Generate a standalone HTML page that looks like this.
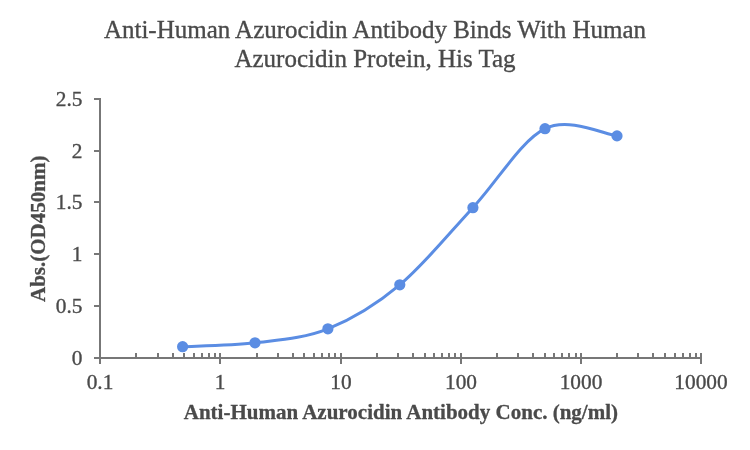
<!DOCTYPE html>
<html><head><meta charset="utf-8"><style>
html,body{margin:0;padding:0;background:#fff;}
svg{display:block;will-change:transform;}
text{font-family:"Liberation Serif",serif;}
.tk{font-size:21.33px;fill:#4a4a4a;stroke:#4a4a4a;stroke-width:0.35px;}
.ti{font-size:25px;fill:#4a4a4a;stroke:#4a4a4a;stroke-width:0.35px;}
.at{font-size:21px;font-weight:bold;fill:#4a4a4a;stroke:#4a4a4a;stroke-width:0.3px;}
</style></head><body>
<svg width="750" height="450" viewBox="0 0 750 450">
<rect x="99" y="98" width="2" height="266" fill="#777777"/>
<rect x="99" y="357" width="602" height="2" fill="#777777"/>
<rect x="94" y="98" width="6" height="2" fill="#777777"/>
<rect x="94" y="150" width="6" height="2" fill="#777777"/>
<rect x="94" y="201" width="6" height="2" fill="#777777"/>
<rect x="94" y="253" width="6" height="2" fill="#777777"/>
<rect x="94" y="305" width="6" height="2" fill="#777777"/>
<rect x="94" y="357" width="6" height="2" fill="#777777"/>
<rect x="99" y="353" width="2" height="11" fill="#777777"/>
<rect x="219" y="353" width="2" height="11" fill="#777777"/>
<rect x="340" y="353" width="2" height="11" fill="#777777"/>
<rect x="460" y="353" width="2" height="11" fill="#777777"/>
<rect x="580" y="353" width="2" height="11" fill="#777777"/>
<rect x="700" y="353" width="2" height="11" fill="#777777"/>
<rect x="135" y="353" width="2" height="5" fill="#777777"/>
<rect x="157" y="353" width="2" height="5" fill="#777777"/>
<rect x="172" y="353" width="2" height="5" fill="#777777"/>
<rect x="183" y="353" width="2" height="5" fill="#777777"/>
<rect x="193" y="353" width="2" height="5" fill="#777777"/>
<rect x="201" y="353" width="2" height="5" fill="#777777"/>
<rect x="208" y="353" width="2" height="5" fill="#777777"/>
<rect x="214" y="353" width="2" height="5" fill="#777777"/>
<rect x="256" y="353" width="2" height="5" fill="#777777"/>
<rect x="277" y="353" width="2" height="5" fill="#777777"/>
<rect x="292" y="353" width="2" height="5" fill="#777777"/>
<rect x="303" y="353" width="2" height="5" fill="#777777"/>
<rect x="313" y="353" width="2" height="5" fill="#777777"/>
<rect x="321" y="353" width="2" height="5" fill="#777777"/>
<rect x="328" y="353" width="2" height="5" fill="#777777"/>
<rect x="334" y="353" width="2" height="5" fill="#777777"/>
<rect x="376" y="353" width="2" height="5" fill="#777777"/>
<rect x="397" y="353" width="2" height="5" fill="#777777"/>
<rect x="412" y="353" width="2" height="5" fill="#777777"/>
<rect x="424" y="353" width="2" height="5" fill="#777777"/>
<rect x="433" y="353" width="2" height="5" fill="#777777"/>
<rect x="441" y="353" width="2" height="5" fill="#777777"/>
<rect x="448" y="353" width="2" height="5" fill="#777777"/>
<rect x="454" y="353" width="2" height="5" fill="#777777"/>
<rect x="496" y="353" width="2" height="5" fill="#777777"/>
<rect x="517" y="353" width="2" height="5" fill="#777777"/>
<rect x="532" y="353" width="2" height="5" fill="#777777"/>
<rect x="544" y="353" width="2" height="5" fill="#777777"/>
<rect x="553" y="353" width="2" height="5" fill="#777777"/>
<rect x="561" y="353" width="2" height="5" fill="#777777"/>
<rect x="568" y="353" width="2" height="5" fill="#777777"/>
<rect x="575" y="353" width="2" height="5" fill="#777777"/>
<rect x="616" y="353" width="2" height="5" fill="#777777"/>
<rect x="637" y="353" width="2" height="5" fill="#777777"/>
<rect x="652" y="353" width="2" height="5" fill="#777777"/>
<rect x="664" y="353" width="2" height="5" fill="#777777"/>
<rect x="674" y="353" width="2" height="5" fill="#777777"/>
<rect x="682" y="353" width="2" height="5" fill="#777777"/>
<rect x="689" y="353" width="2" height="5" fill="#777777"/>
<rect x="695" y="353" width="2" height="5" fill="#777777"/>
<text x="82.5" y="106" text-anchor="end" class="tk">2.5</text>
<text x="82.5" y="158" text-anchor="end" class="tk">2</text>
<text x="82.5" y="209" text-anchor="end" class="tk">1.5</text>
<text x="82.5" y="261" text-anchor="end" class="tk">1</text>
<text x="82.5" y="313" text-anchor="end" class="tk">0.5</text>
<text x="82.5" y="365" text-anchor="end" class="tk">0</text>
<text x="100" y="389" text-anchor="middle" class="tk">0.1</text>
<text x="220" y="389" text-anchor="middle" class="tk">1</text>
<text x="341" y="389" text-anchor="middle" class="tk">10</text>
<text x="461" y="389" text-anchor="middle" class="tk">100</text>
<text x="581" y="389" text-anchor="middle" class="tk">1000</text>
<text x="701" y="389" text-anchor="middle" class="tk">10000</text>
<path d="M182.60,346.70 C194.67,346.05 230.78,345.78 255.00,342.80 C279.22,339.82 303.77,338.47 327.90,328.80 C352.03,319.13 375.63,304.98 399.80,284.80 C423.97,264.62 448.70,233.72 472.90,207.70 C497.10,181.68 520.98,140.67 545.00,128.70 C569.02,116.73 605.00,134.70 617.00,135.90" fill="none" stroke="#5B8DE3" stroke-width="3" stroke-linecap="round" stroke-linejoin="round"/>
<circle cx="182.6" cy="346.7" r="5.6" fill="#5B8DE3"/>
<circle cx="255" cy="342.8" r="5.6" fill="#5B8DE3"/>
<circle cx="327.9" cy="328.8" r="5.6" fill="#5B8DE3"/>
<circle cx="399.8" cy="284.8" r="5.6" fill="#5B8DE3"/>
<circle cx="472.9" cy="207.7" r="5.6" fill="#5B8DE3"/>
<circle cx="545" cy="128.7" r="5.6" fill="#5B8DE3"/>
<circle cx="617" cy="135.9" r="5.6" fill="#5B8DE3"/>
<text x="375" y="37.8" text-anchor="middle" class="ti">Anti-Human Azurocidin Antibody Binds With Human</text>
<text x="375" y="66.8" text-anchor="middle" class="ti">Azurocidin Protein, His Tag</text>
<text x="400.9" y="418.5" text-anchor="middle" class="at">Anti-Human Azurocidin Antibody Conc. (ng/ml)</text>
<text transform="translate(45.2,228.8) rotate(-90)" x="0" y="0" text-anchor="middle" class="at">Abs.(OD450nm)</text>
</svg>
</body></html>
